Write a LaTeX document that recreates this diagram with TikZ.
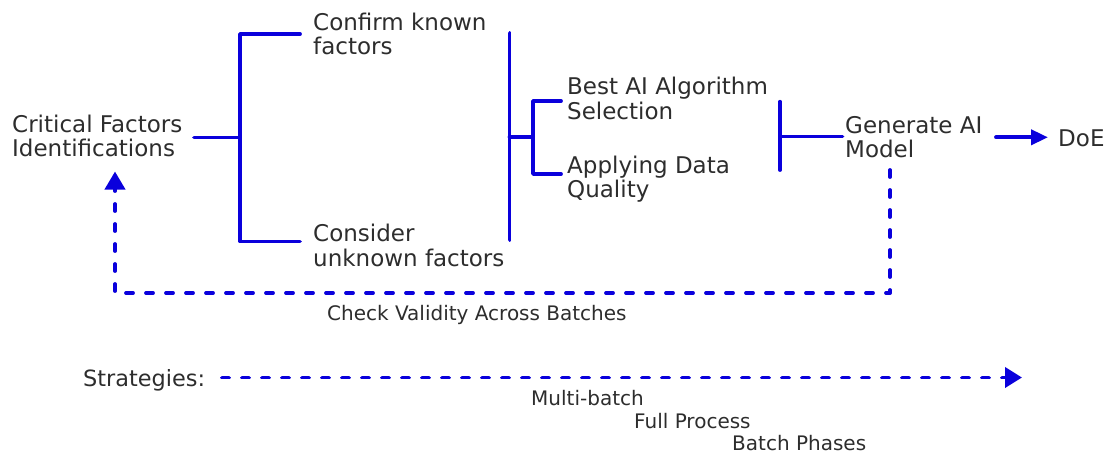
\documentclass[tikz,border=0pt]{standalone}
\usepackage{fontspec}
\setmainfont{DejaVu Sans}
\usetikzlibrary{arrows.meta}
\definecolor{lineblue}{RGB}{10,0,220}
\definecolor{txt}{RGB}{45,45,45}
\newcommand\twolines[2]{\begin{tabular}[t]{@{}l@{}}#1\\#2\end{tabular}}
\tikzset{
  lbl/.style={anchor=base west, inner sep=0pt, text=txt, font=\fontsize{23}{24.4}\selectfont},
  small/.style={anchor=base west, inner sep=0pt, text=txt, font=\fontsize{20}{22}\selectfont},
  solidline/.style={draw=lineblue, line width=3.8pt, line cap=round, line join=round},
  dashline/.style={draw=lineblue, line width=3.8pt, line cap=round, line join=round, dash pattern=on 7pt off 13pt},
}
\begin{document}
\begin{tikzpicture}[x=1pt,y=-1pt]
\useasboundingbox (0,0) rectangle (1107,455);
% text nodes
\node[lbl] (crit) at (12,132) {\twolines{Critical Factors}{Identifications}};
\node[lbl] (conf) at (313,30) {\twolines{Confirm known}{factors}};
\node[lbl] (cons) at (313,241.5) {\twolines{Consider}{unknown factors}};
\node[lbl] (best) at (567,94.5) {\twolines{Best AI Algorithm}{Selection}};
\node[lbl] (appl) at (567,173) {\twolines{Applying Data}{Quality}};
\node[lbl] (gen) at (845,133) {\twolines{Generate AI}{Model}};
\node[lbl] (doe) at (1058,146.5) {DoE};
\node[small] (check) at (327,320.5) {Check Validity Across Batches};
\node[lbl, font=\fontsize{22.4}{24}\selectfont] (strat) at (83,386) {Strategies:};
\node[small] (multi) at (531,405) {Multi-batch};
\node[small] (full) at (634,428) {Full Process};
\node[small] (batch) at (732,450) {Batch Phases};
% bracket 1
\coordinate (c1) at (194,137.5);
\coordinate (j1) at (240,137.5);
\coordinate (b1t) at (240,34);
\coordinate (b1b) at (240,241.5);
\coordinate (a1t) at (300,34);
\coordinate (a1b) at (300,241.5);
\draw[solidline] (c1) -- (j1);
\draw[solidline] (a1t) -- (b1t) -- (b1b) -- (a1b);
% bracket 2
\coordinate (b2t) at (509.5,33);
\coordinate (b2b) at (509.5,240);
\coordinate (j2) at (509.5,136.7);
\coordinate (j3) at (533,136.7);
\coordinate (b3t) at (533,101);
\coordinate (b3b) at (533,174);
\coordinate (a3t) at (561,101);
\coordinate (a3b) at (561,174);
\draw[solidline] (b2t) -- (b2b);
\draw[solidline] (j2) -- (j3);
\draw[solidline] (a3t) -- (b3t) -- (b3b) -- (a3b);
% bracket 3
\coordinate (b4t) at (780,101.7);
\coordinate (b4b) at (780,170);
\coordinate (j4) at (780,136.5);
\coordinate (g4) at (842.5,136.5);
\draw[solidline] (b4t) -- (b4b);
\draw[solidline] (j4) -- (g4);
% arrow to DoE
\coordinate (d0) at (996,137.3);
\coordinate (d1) at (1048,137.3);
\draw[solidline, -{Triangle[length=17pt,width=15pt]}] (d0) -- (d1);
% feedback loop
\coordinate (f0) at (890,170);
\coordinate (f1) at (890,293);
\coordinate (f2) at (115,293);
\coordinate (f3) at (115,171.5);
\draw[dashline, -{Triangle[length=18pt,width=20pt]}] (f0) -- (f1) -- (f2) -- (f3);
% strategies arrow
\coordinate (s0) at (222,377.5);
\coordinate (s1) at (1022,377.5);
\draw[dashline, -{Triangle[length=17pt,width=20pt]}] (s0) -- (s1);
\end{tikzpicture}
\end{document}
